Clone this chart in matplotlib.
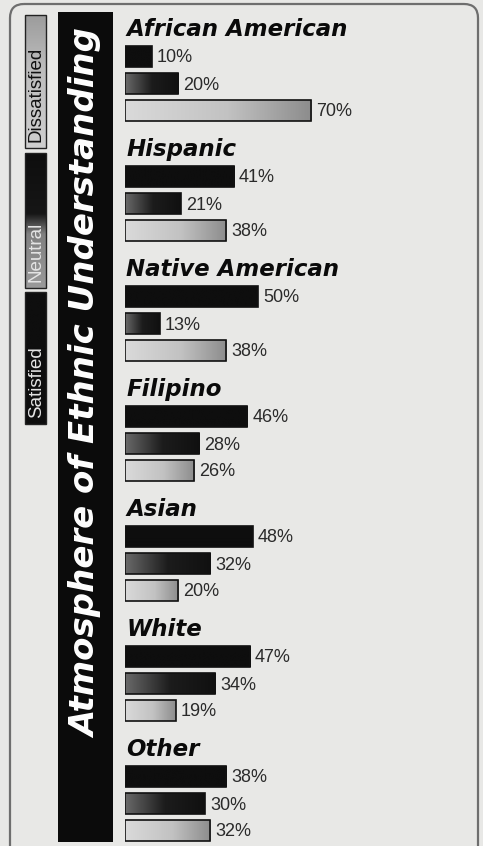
import matplotlib
matplotlib.use("Agg")
import matplotlib.pyplot as plt
import numpy as np
from matplotlib.patches import Rectangle, FancyBboxPatch
from matplotlib.colors import LinearSegmentedColormap

# ---- data ----
groups = ["African American", "Hispanic", "Native American", "Filipino",
          "Asian", "White", "Other"]
satisfied = [10, 41, 50, 46, 48, 47, 38]
neutral = [20, 21, 13, 28, 32, 34, 30]
dissatisfied = [70, 38, 38, 26, 20, 19, 32]
series_names = ["Satisfied", "Neutral", "Dissatisfied"]
title = "Atmosphere of Ethnic Understanding"

W, H = 483, 846
BG = "#e8e8e6"
fig = plt.figure(figsize=(W / 100, H / 100), dpi=100, facecolor=BG)

cmaps = [
    LinearSegmentedColormap.from_list("sat", ["#0e0e0e", "#0e0e0e"]),
    LinearSegmentedColormap.from_list("neu", [(0, "#6a6a6a"), (0.5, "#1c1c1c"), (1, "#101010")]),
    LinearSegmentedColormap.from_list("dis", [(0, "#dadada"), (0.55, "#c2c2c2"), (1, "#8c8c8c")]),
]
leg_cmaps = [
    cmaps[0],
    LinearSegmentedColormap.from_list("neu_leg", [(0, "#9a9a9a"), (0.4, "#808080"),
                                                  (0.55, "#161616"), (1, "#0e0e0e")]),
    LinearSegmentedColormap.from_list("dis_leg", [(0, "#cfcfcf"), (0.6, "#bdbdbd"), (1, "#9c9c9c")]),
]
grad = np.linspace(0, 1, 256).reshape(1, -1)

# background/decoration axes in pixel coordinates
bg = fig.add_axes([0, 0, 1, 1])
bg.axis("off")
bg.set_facecolor(BG)

border = FancyBboxPatch((10, 4), 468, 900, boxstyle="round,pad=0,rounding_size=14",
                        facecolor="none", edgecolor="#6e6e6e", lw=1.6)
bg.add_patch(border)

# title bar
bg.add_patch(Rectangle((58, 12), 55, 830, facecolor="#0b0b0b", edgecolor="none"))
bg.text(87, 384, title, rotation=90, ha="center", va="center", color="white",
        fontsize=24.5, fontweight="heavy", fontstyle="italic",
        family=["DejaVu Sans"])

# legend: vertical bars (bottom = start), text at the start end
leg_specs = [  # (series index, top, bottom, text colour)
    (2, 15, 148, "#111111"),
    (1, 153, 288, "#e4e4e4"),
    (0, 292, 424, "#e4e4e4"),
]
vgrad = np.linspace(1, 0, 256).reshape(-1, 1)
for si, y0, y1, tc in leg_specs:
    rect = Rectangle((25, y0), 21, y1 - y0, facecolor="none",
                     edgecolor="#222222", lw=1.0, zorder=3)
    bg.add_patch(rect)
    im = bg.imshow(vgrad, extent=[25, 46, y1, y0], cmap=leg_cmaps[si],
                   aspect="auto", zorder=2, interpolation="bilinear",
                   vmin=0, vmax=1)
    im.set_clip_path(rect)
    bg.text(36.5, y1 - 6, series_names[si], rotation=90, ha="center", va="bottom",
            color=tc, fontsize=13.5, family=["Liberation Sans"], zorder=4)
bg.set_xlim(0, W)
bg.set_ylim(H, 0)

# bar axes
PX_PER_PCT = 2.66
x_left = 125
ax = fig.add_axes([x_left / W, 0, (W - x_left) / W, 1])
ax.set_facecolor("none")
ax.axis("off")
xmax = (W - x_left) / PX_PER_PCT

first_center = 57
group_step = 120
row_step = 27
bar_h = 21

series = [satisfied, neutral, dissatisfied]
for gi, g in enumerate(groups):
    base = first_center + gi * group_step
    ax.text(0.5, base - 21, g, ha="left", va="baseline", fontsize=16.5,
            fontweight="heavy", fontstyle="italic", color="#0a0a0a",
            family=["DejaVu Sans"])
    for si, vals in enumerate(series):
        y = base + si * row_step
        v = vals[gi]
        bars = ax.barh([y], [v], height=bar_h, left=0, facecolor="none",
                       edgecolor="#111111", lw=1.2, zorder=3)
        im = ax.imshow(grad, extent=[0, v, y + bar_h / 2, y - bar_h / 2],
                       cmap=cmaps[si], aspect="auto", zorder=2,
                       interpolation="bilinear")
        im.set_clip_path(bars.patches[0])
        ax.text(v + 1.9, y + 1, f"{v}%", ha="left", va="center",
                fontsize=13, color="#2a2a2a", family=["Liberation Sans"])

ax.set_xlim(0, xmax)
ax.set_ylim(H, 0)

fig.savefig("out.png", dpi=100, facecolor=BG)
